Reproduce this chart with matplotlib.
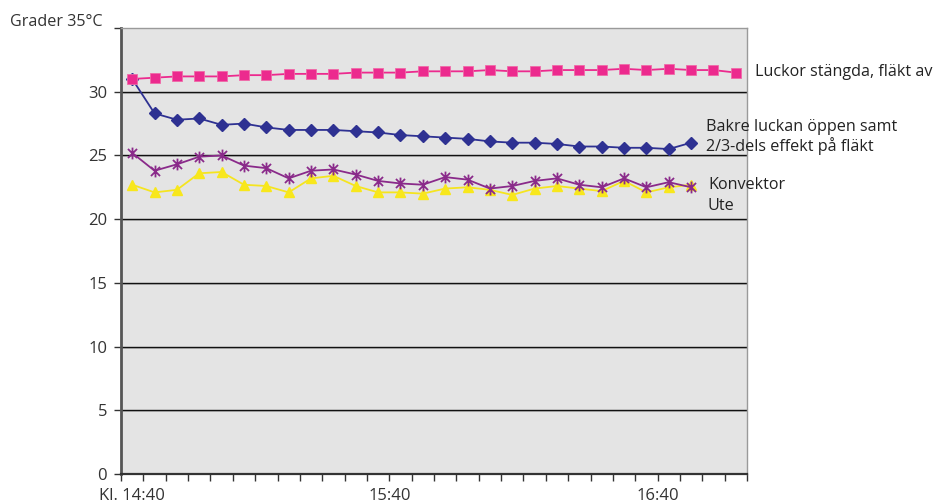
import matplotlib
matplotlib.use("Agg")
import matplotlib.pyplot as plt
from matplotlib.path import Path

plt.rcParams['font.family'] = ['Open Sans', 'DejaVu Sans']

# 5-minute samples from 14:40 to 16:55
times = ["14:40", "14:45", "14:50", "14:55", "15:00", "15:05", "15:10", "15:15",
         "15:20", "15:25", "15:30", "15:35", "15:40", "15:45", "15:50", "15:55",
         "16:00", "16:05", "16:10", "16:15", "16:20", "16:25", "16:30", "16:35",
         "16:40", "16:45", "16:50", "16:55"]

luckor_stangda = [31.0, 31.1, 31.2, 31.2, 31.2, 31.3, 31.3, 31.4, 31.4, 31.4,
                  31.5, 31.5, 31.5, 31.6, 31.6, 31.6, 31.7, 31.6, 31.6, 31.7,
                  31.7, 31.7, 31.8, 31.7, 31.8, 31.7, 31.7, 31.5]
bakre_luckan = [31.0, 28.3, 27.8, 27.9, 27.4, 27.5, 27.2, 27.0, 27.0, 27.0,
                26.9, 26.8, 26.6, 26.5, 26.4, 26.3, 26.1, 26.0, 26.0, 25.9,
                25.7, 25.7, 25.6, 25.6, 25.5, 26.0]
konvektor = [25.2, 23.8, 24.3, 24.9, 25.0, 24.2, 24.0, 23.2, 23.8, 23.9,
             23.5, 23.0, 22.8, 22.7, 23.3, 23.1, 22.4, 22.6, 23.0, 23.2,
             22.7, 22.5, 23.2, 22.5, 22.9, 22.5]
ute = [22.7, 22.1, 22.3, 23.6, 23.7, 22.7, 22.6, 22.1, 23.2, 23.4,
       22.6, 22.1, 22.1, 22.0, 22.4, 22.5, 22.3, 21.9, 22.4, 22.6,
       22.4, 22.2, 23.0, 22.1, 22.5, 22.7]

series_labels = ["Luckor stängda, fläkt av",
                 "Bakre luckan öppen samt\n2/3-dels effekt på fläkt",
                 "Konvektor", "Ute"]
# label text and the category position it is centred on
x_labels = ["Kl. 14:40", "15:40", "16:40"]
x_label_pos = [0, 11.5, 23.5]
y_ticks = [0, 5, 10, 15, 20, 25, 30, 35]
y_title = "Grader 35°C"

FS = 12.0
FS_LAB = 11.6
W, H = 937, 504
fig = plt.figure(figsize=(W / 100, H / 100), dpi=100)
L, R, T, B = 121, 747, 28, 474
ax = fig.add_axes([L / W, 1 - B / H, (R - L) / W, (B - T) / H])
ax.set_facecolor('#e4e4e4')

n = len(times)
ax.set_xlim(-0.5, n - 0.5)
ax.set_ylim(0, 35)

px_unit = 35 / (B - T)
for v in y_ticks[1:-1]:
    ax.axhline(v - px_unit, color='#bdbdbd', lw=1.4, zorder=1)
    ax.axhline(v, color='#111111', lw=1.0, zorder=1.5)

star = Path([(-1, -1), (1, 1), (-1, 1), (1, -1), (0, -1.3), (0, 1.3)],
            [Path.MOVETO, Path.LINETO, Path.MOVETO, Path.LINETO, Path.MOVETO, Path.LINETO])

xs = list(range(n))
ax.plot(xs[:len(ute)], ute, color='#f5e420', lw=1.3, marker='^', ms=7.5,
        mfc='#f8e71c', mec='#f8e71c', zorder=3)
ax.plot(xs[:len(konvektor)], konvektor, color='#8a2a8a', lw=1.3, marker=star, ms=8.5,
        mew=1.3, mec='#8a2a8a', zorder=4)
ax.plot(xs[:len(bakre_luckan)], bakre_luckan, color='#2e3192', lw=1.3, marker='D', ms=5.8,
        mfc='#2e3192', mec='#2e3192', zorder=5)
ax.plot(xs[:len(luckor_stangda)], luckor_stangda, color='#ec2a8e', lw=1.3, marker='s', ms=7,
        mfc='#ec2a8e', mec='#f06aa8', mew=0.6, zorder=6)

# spines
for s in ['top', 'right']:
    ax.spines[s].set_color('#9a9a9a')
    ax.spines[s].set_linewidth(1.0)
ax.spines['left'].set_color('#555555')
ax.spines['left'].set_linewidth(2.0)
ax.spines['bottom'].set_color('#333333')
ax.spines['bottom'].set_linewidth(1.6)

ax.set_yticks(y_ticks)
ax.set_yticklabels([str(v) if v != 35 else "" for v in y_ticks], fontsize=FS, color='#333333')
ax.tick_params(axis='y', direction='out', length=5, width=1.0, color='#333333', pad=5)

ax.set_xticks([i - 0.5 for i in range(n + 1)])
ax.set_xticklabels([""] * (n + 1))
ax.tick_params(axis='x', direction='out', length=5, width=1.0, color='#333333')
for lab, pos in zip(x_labels, x_label_pos):
    ax.text(pos, -1.08, lab, ha='center', va='top',
            fontsize=FS, color='#333333', transform=ax.transData)

fig.text(103 / W, 1 - 22 / H, y_title, ha='right', va='center', fontsize=FS_LAB, color='#333333')

label_pos = [(755, 72), (706, 137), (708, 185), (708, 206)]
for lab, (px, py) in zip(series_labels, label_pos):
    fig.text(px / W, 1 - py / H, lab, ha='left', va='center', fontsize=FS_LAB,
             color='#222222', linespacing=1.18)

fig.savefig("out.png", dpi=100)
